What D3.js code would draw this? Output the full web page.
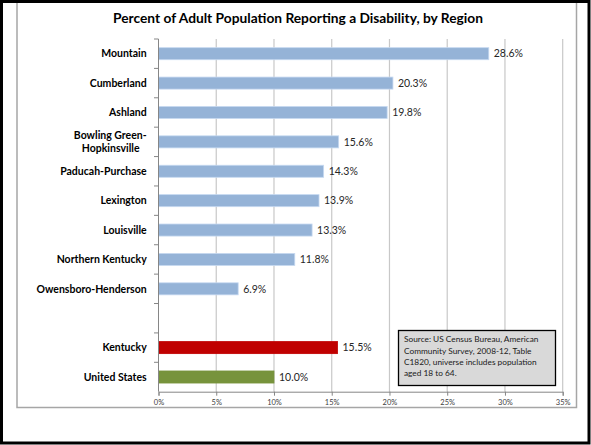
<!DOCTYPE html>
<html><head><meta charset="utf-8">
<script src="https://cdn.jsdelivr.net/npm/d3@7"></script>
<style>body{margin:0;background:#fff}svg{display:block}</style>
</head><body>
<svg id="c" width="591" height="445"></svg>
<script>
const titleText = "Percent of Adult Population Reporting a Disability, by Region";
const regions = ["Mountain","Cumberland","Ashland","Bowling Green-\nHopkinsville","Paducah-Purchase","Lexington","Louisville","Northern Kentucky","Owensboro-Henderson","","Kentucky","United States"];
const values = [28.6, 20.3, 19.8, 15.6, 14.3, 13.9, 13.3, 11.8, 6.9, null, 15.5, 10.0];
const valueLabels = ["28.6%","20.3%","19.8%","15.6%","14.3%","13.9%","13.3%","11.8%","6.9%","","15.5%","10.0%"];
const xTicks = [0,5,10,15,20,25,30,35];
const sourceLines = ["Source: US Census Bureau, American","Community Survey, 2008-12, Table","C1820, universe includes population","aged 18 to 64."];

(function(){
const FONT = "Lato, 'Open Sans', sans-serif";
const svg = d3.select("#c");
const keys = regions.map((r,i)=>i);
const barColor = i => regions[i]==="Kentucky" ? "#C00000" : regions[i]==="United States" ? "#77933C" : "#95B3D7";
const barStroke = i => regions[i]==="Kentucky" ? "#C00000" : regions[i]==="United States" ? "#77933C" : "#C6D9F1";

// outer frame & chart area
svg.append("rect").attr("x",17).attr("y",2).attr("width",559.5).attr("height",405.5)
  .attr("fill","#fff").attr("stroke","#a6a6a6").attr("stroke-width",1.5);
svg.append("rect").attr("x",1.5).attr("y",1.5).attr("width",587.5).attr("height",441.5)
  .attr("fill","none").attr("stroke","#000").attr("stroke-width",3);

const pl = 158.5, pr = 562.7, pt = 39, pb = 391.7;
const x = d3.scaleLinear().domain([0,35]).range([pl,pr]);
const y = d3.scaleBand().domain(keys).range([pt,pb]).paddingInner(0.59).paddingOuter(0.295);
const yb = d3.scaleBand().domain(keys).range([pt,pb]);

// title
const t = svg.append("text").attr("x",298).attr("y",23).attr("text-anchor","middle")
  .attr("font-family",FONT).attr("font-weight","bold").attr("font-size",14).attr("fill","#000").text(titleText);
const tw = t.node().getComputedTextLength();
t.attr("font-size", 14*370/tw);

// gridlines
svg.append("g").selectAll("line").data(xTicks.filter(d=>d>0)).join("line")
  .attr("x1",d=>x(d)).attr("x2",d=>x(d)).attr("y1",pt).attr("y2",pb)
  .attr("stroke","#c8c8c8").attr("stroke-width",1.2);

// x axis
const xAxis = svg.append("g").attr("transform",`translate(0,${pb})`)
  .call(d3.axisBottom(x).tickValues(xTicks).tickFormat(d=>d+"%").tickSize(4).tickPadding(4));
xAxis.select(".domain").attr("stroke","#868686");
xAxis.selectAll(".tick line").attr("stroke","#868686");
xAxis.selectAll("text").attr("font-family",FONT).attr("font-size",7.5).attr("fill","#404040");

// bars
svg.append("g").selectAll("rect").data(keys.filter(i=>values[i]!=null)).join("rect")
  .attr("x",x(0)).attr("y",i=>y(i)).attr("width",i=>x(values[i])-x(0)).attr("height",y.bandwidth())
  .attr("fill",i=>barColor(i)).attr("stroke",i=>barStroke(i)).attr("stroke-width",0.8);

// y axis line & ticks
const yg = svg.append("g");
yg.append("line").attr("x1",pl).attr("x2",pl).attr("y1",pt).attr("y2",pb).attr("stroke","#868686");
yg.selectAll("line.tk").data(keys).join("line").attr("class","tk")
  .attr("x1",pl-4.5).attr("x2",pl).attr("y1",i=>yb(i)).attr("y2",i=>yb(i)).attr("stroke","#868686");

// category labels
const lab = svg.append("g").attr("font-family",FONT).attr("font-weight","bold").attr("font-size",10.5).attr("fill","#000");
keys.forEach(i=>{
  const parts = regions[i].split("\n");
  const cy = yb(i)+yb.bandwidth()/2;
  parts.forEach((p,j)=>{
    lab.append("text").attr("x", j===0 ? 146.7 : 139.5)
      .attr("y", cy + (j - (parts.length-1)/2)*13.3).attr("dy","0.35em")
      .attr("text-anchor","end").text(p);
  });
});

// value labels
svg.append("g").selectAll("text").data(keys.filter(i=>values[i]!=null)).join("text")
  .attr("x",i=>x(values[i])+5).attr("y",i=>y(i)+y.bandwidth()/2).attr("dy","0.35em")
  .attr("font-family",FONT).attr("font-size",10.5).attr("fill","#262626").text(i=>valueLabels[i]);

// source box
svg.append("rect").attr("x",398.5).attr("y",330.5).attr("width",157).attr("height",55)
  .attr("fill","#d9d9d9").attr("stroke","#000").attr("stroke-width",1.3);
svg.append("g").selectAll("text").data(sourceLines).join("text")
  .attr("x",404).attr("y",(d,i)=>342.3+i*11.3)
  .attr("font-family",FONT).attr("font-size",8.3).attr("fill","#1a1a1a").text(d=>d);
})();
</script>
</body></html>
